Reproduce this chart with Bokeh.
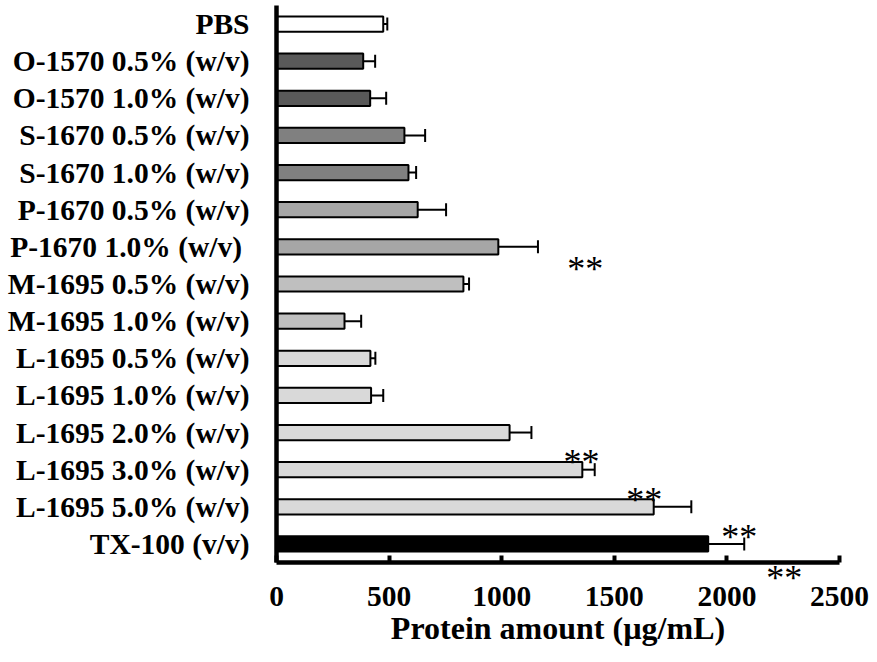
from bokeh.plotting import figure
from bokeh.models import (ColumnDataSource, FactorRange, Range1d, FixedTicker,
                          Whisker, TeeHead)
from bokeh.core.properties import value
from bokeh.embed import file_html
from bokeh.resources import INLINE

# ---- data (top to bottom) ----
categories = ["PBS", "O-1570 0.5% (w/v)", "O-1570 1.0% (w/v)",
              "S-1670 0.5% (w/v)", "S-1670 1.0% (w/v)",
              "P-1670 0.5% (w/v)", "P-1670 1.0%  (w/v)",
              "M-1695 0.5% (w/v)", "M-1695 1.0% (w/v)",
              "L-1695 0.5% (w/v)", "L-1695 1.0% (w/v)", "L-1695 2.0% (w/v)",
              "L-1695 3.0% (w/v)", "L-1695 5.0% (w/v)", "TX-100 (v/v)"]
protein = [474, 385, 416, 568, 586, 627, 985, 830, 302, 417, 420, 1035, 1358, 1675, 1917]
errors = [18, 53, 71, 92, 34, 126, 176, 25, 74, 22, 54, 97, 55, 167, 160]
colors = ["#ffffff", "#595959", "#595959", "#808080", "#808080",
          "#a6a6a6", "#a6a6a6", "#bfbfbf", "#bfbfbf",
          "#d9d9d9", "#d9d9d9", "#d9d9d9", "#d9d9d9", "#d9d9d9", "#000000"]
x_ticks = [0, 500, 1000, 1500, 2000, 2500]
x_title = "Protein amount (µg/mL)"

# significance marks: (row, x position of the mark, pixel offset from row centre)
sig_rows = ["P-1670 1.0%  (w/v)", "L-1695 3.0% (w/v)", "L-1695 5.0% (w/v)", "TX-100 (v/v)"]
sig_x = [1371, 1354, 1633, 2055]
sig_dy = [22, -8, -7, -7]
extra_sig_row = "TX-100 (v/v)"
extra_sig_x = 2255
extra_sig_dy = 34

FONT = "Liberation Serif"

src = ColumnDataSource(dict(cat=categories, val=protein,
                            upper=[v + e for v, e in zip(protein, errors)],
                            color=colors))

p = figure(width=877, height=662, output_backend="svg", toolbar_location=None,
           y_range=FactorRange(factors=list(reversed(categories))),
           x_range=Range1d(0, 2500),
           min_border_left=276, min_border_right=38, min_border_top=5,
           min_border_bottom=100)
p.outline_line_color = None
p.grid.visible = False
p.background_fill_color = "white"

p.hbar(y="cat", left=0, right="val", height=0.41, source=src,
       fill_color="color", line_color="black", line_width=2)

wh = Whisker(base="cat", lower="val", upper="upper", dimension="width", source=src,
             line_color="black", line_width=2, lower_head=None,
             upper_head=TeeHead(size=13, line_width=2, line_color="black"))
p.add_layout(wh)

sig_src = ColumnDataSource(dict(y=sig_rows, x=sig_x, dy=sig_dy, t=["**"] * len(sig_rows)))
p.text(x="x", y="y", text="t", y_offset="dy", source=sig_src,
       text_font=value(FONT), text_font_size="36px", text_align="center",
       text_baseline="alphabetic", text_color="black")
extra = p.text(x=[extra_sig_x], y=[extra_sig_row], text=["**"], y_offset=extra_sig_dy,
               text_font=value(FONT), text_font_size="36px", text_align="center",
               text_baseline="alphabetic", text_color="black", level="overlay")

# x axis
xa = p.xaxis[0]
xa.ticker = FixedTicker(ticks=x_ticks)
xa.axis_line_width = 4.5
xa.major_tick_line_width = 4
xa.major_tick_in = 7
xa.major_tick_out = 0
xa.minor_tick_line_color = None
xa.major_label_text_font = FONT
xa.major_label_text_font_style = "bold"
xa.major_label_text_font_size = "29.5px"
xa.major_label_text_color = "black"
xa.major_label_standoff = 24
xa.axis_label = x_title
xa.axis_label_text_font = FONT
xa.axis_label_text_font_style = "bold"
xa.axis_label_text_font_size = "32px"
xa.axis_label_text_color = "black"
xa.axis_label_standoff = 1

# y axis
ya = p.yaxis[0]
ya.axis_line_width = 4.5
ya.major_tick_line_color = None
ya.minor_tick_line_color = None
ya.major_label_text_font = FONT
ya.major_label_text_font_style = "bold"
ya.major_label_text_font_size = "29.5px"
ya.major_label_text_color = "black"
ya.major_label_standoff = 21

open("out.html", "w").write(file_html(p, INLINE))
